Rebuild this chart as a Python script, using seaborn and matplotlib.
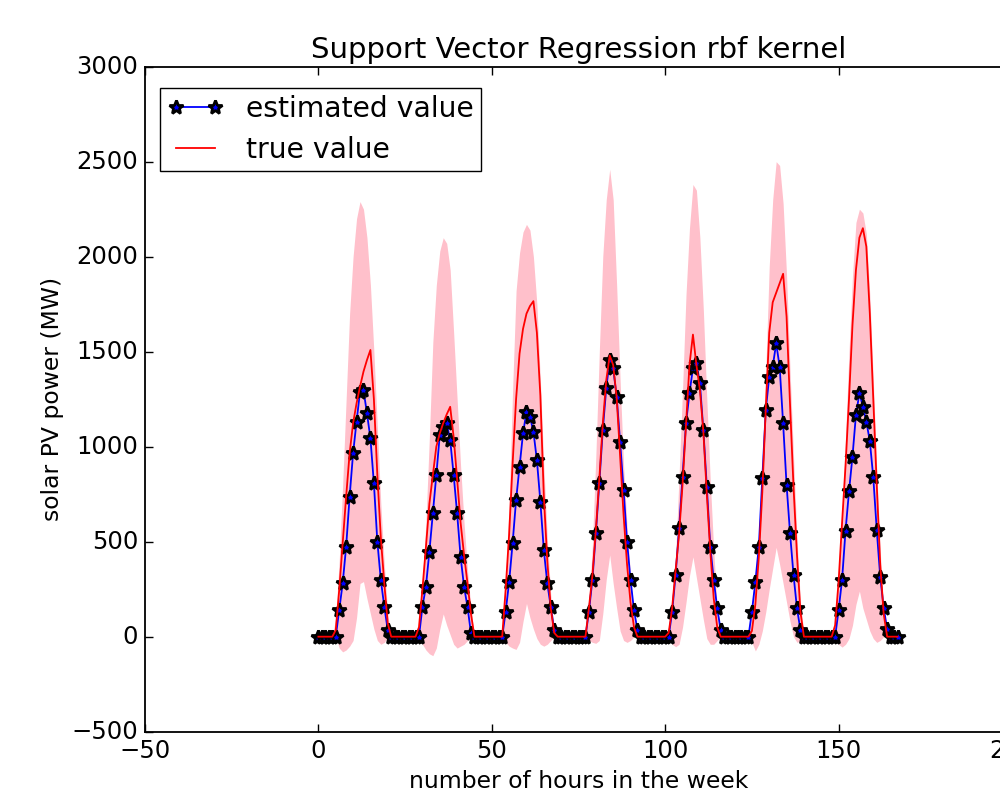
import numpy as np
import pandas as pd
import matplotlib
matplotlib.use("Agg")
import matplotlib.pyplot as plt
import seaborn as sns

# old matplotlib look (boxed axes, inward ticks on all sides)
plt.style.use("classic")
plt.rcParams["font.family"] = "DejaVu Sans"
plt.rcParams["font.size"] = 17.5
plt.rcParams["figure.facecolor"] = "white"
plt.rcParams["savefig.facecolor"] = "white"
plt.rcParams["axes.linewidth"] = 1.3
for ax_name in ("xtick", "ytick"):
    plt.rcParams[f"{ax_name}.major.size"] = 5.5
    plt.rcParams[f"{ax_name}.major.width"] = 1.0
    plt.rcParams[f"{ax_name}.major.pad"] = 5

# --- data ---
# one week, hourly; each list covers hours 5..21 of its day, night hours are 0
N_HOURS = 168
FIRST_HOUR = 5

est_d1 = [0, 140, 281, 474, 737, 965, 1132, 1289, 1298, 1176, 1044, 807, 500, 298, 158, 35, 0]
est_d2 = [0, 158, 263, 447, 649, 851, 1062, 1106, 1123, 1035, 851, 649, 421, 263, 156, 17, 0]
est_d3 = [0, 132, 289, 492, 719, 895, 1070, 1184, 1158, 1079, 930, 711, 456, 281, 158, 35, 0]
est_d4 = [0, 132, 298, 544, 807, 1088, 1307, 1456, 1413, 1263, 1026, 772, 500, 298, 140, 35, 0]
est_d5 = [0, 132, 325, 570, 842, 1123, 1281, 1413, 1439, 1334, 1088, 789, 474, 298, 149, 35, 0]
est_d6 = [132, 289, 474, 833, 1193, 1368, 1421, 1544, 1421, 1123, 798, 544, 325, 149, 35, 0, 0]
est_d7 = [0, 140, 300, 558, 765, 948, 1167, 1281, 1211, 1132, 1030, 838, 562, 316, 152, 40, 0]

true_d1 = [35, 246, 492, 737, 965, 1123, 1228, 1316, 1395, 1456, 1509, 1250, 850, 520, 280, 70, 0]
true_d2 = [50, 250, 470, 700, 850, 1000, 1070, 1124, 1170, 1210, 1050, 830, 600, 430, 280, 120, 0]
true_d3 = [0, 250, 540, 910, 1250, 1490, 1620, 1700, 1740, 1766, 1600, 1270, 740, 400, 150, 20, 0]
true_d4 = [0, 150, 320, 560, 830, 1120, 1350, 1480, 1430, 1260, 950, 640, 380, 180, 50, 0, 0]
true_d5 = [20, 150, 350, 540, 800, 1120, 1430, 1590, 1430, 1300, 1080, 750, 450, 200, 50, 0, 0]
true_d6 = [30, 170, 420, 760, 1200, 1600, 1760, 1810, 1860, 1910, 1684, 1220, 790, 430, 130, 0, 0]
true_d7 = [60, 290, 600, 900, 1250, 1640, 1930, 2100, 2150, 2053, 1702, 1250, 800, 380, 120, 0, 0]

upper_d1 = [100, 400, 800, 1250, 1700, 2000, 2200, 2290, 2250, 2100, 1850, 1500, 1100, 700, 380, 120, 0]
upper_d2 = [60, 300, 600, 1050, 1550, 1850, 2030, 2100, 2070, 1930, 1600, 1250, 900, 600, 350, 150, 0]
upper_d3 = [0, 300, 700, 1300, 1820, 2020, 2130, 2170, 2140, 2000, 1750, 1350, 900, 520, 220, 40, 0]
upper_d4 = [0, 170, 480, 950, 1500, 2000, 2300, 2460, 2300, 1850, 1350, 900, 580, 320, 100, 20, 0]
upper_d5 = [30, 170, 420, 850, 1300, 1800, 2150, 2380, 2350, 2100, 1720, 1250, 820, 450, 150, 40, 0]
upper_d6 = [140, 300, 520, 900, 1400, 1950, 2300, 2500, 2480, 2280, 1900, 1400, 950, 520, 180, 20, 0]
upper_d7 = [80, 320, 650, 1050, 1500, 1900, 2180, 2250, 2230, 2120, 1800, 1350, 880, 450, 150, 40, 0]

lower_d1 = [0, -60, -80, -70, -50, -20, 100, 280, 290, 200, 120, 40, -20, -40, -30, 0, 0]
lower_d2 = [0, -40, -70, -90, -100, -60, 40, 120, 60, 10, -40, -60, -50, -40, -20, 0, 0]
lower_d3 = [0, -30, -50, -60, -67, -30, 80, 175, 100, 40, -10, -40, -50, -40, -20, 0, 0]
lower_d4 = [0, -20, -30, -35, -20, 120, 300, 430, 280, 150, 30, -20, -30, -20, 0, 0, 0]
lower_d5 = [0, -40, -53, -40, 50, 180, 320, 420, 310, 200, 90, -10, -40, -40, -20, 0, 0]
lower_d6 = [-30, -75, -40, 30, 130, 250, 360, 470, 380, 280, 180, 80, 0, -30, -20, 0, 0]
lower_d7 = [0, -40, -55, -40, -10, 60, 170, 240, 150, 90, 30, -10, -30, -20, 0, 0, 0]


def week(days):
    """Put the daytime lists into a full week of hourly values."""
    out = np.zeros(N_HOURS)
    for d, vals in enumerate(days):
        start = 24 * d + FIRST_HOUR
        out[start:start + len(vals)] = vals
    return out


hours = np.arange(N_HOURS)
df = pd.DataFrame({
    "hour": hours,
    "estimated": week([est_d1, est_d2, est_d3, est_d4, est_d5, est_d6, est_d7]),
    "true": week([true_d1, true_d2, true_d3, true_d4, true_d5, true_d6, true_d7]),
    "upper": week([upper_d1, upper_d2, upper_d3, upper_d4, upper_d5, upper_d6, upper_d7]),
    "lower": week([lower_d1, lower_d2, lower_d3, lower_d4, lower_d5, lower_d6, lower_d7]),
})

# --- plot ---
fig = plt.figure(figsize=(10, 8), dpi=100)
# the original image is cropped: the right spine sits just past the edge
ax = fig.add_axes([0.145, 0.0854, 0.867, 0.83125])

ax.fill_between(df["hour"], df["lower"], df["upper"], color="pink", lw=0, zorder=1)
sns.lineplot(data=df, x="hour", y="estimated", color="b", lw=1.3, marker="*",
             ms=10, mfc="b", mec="k", mew=2.0, label="estimated value", ax=ax, zorder=2)
sns.lineplot(data=df, x="hour", y="true", color="r", lw=1.3,
             label="true value", ax=ax, zorder=3)

ax.set_xlim(-50, 200)
ax.set_ylim(-500, 3000)
ax.set_xticks(np.arange(-50, 201, 50))
ax.set_yticks(np.arange(-500, 3001, 500))
ax.set_title("Support Vector Regression rbf kernel", fontsize=21, pad=6)
ax.set_xlabel("number of hours in the week", fontsize=16.9)
ax.set_ylabel("solar PV power (MW)", fontsize=16.9)

ax.legend(loc="upper left", bbox_to_anchor=(0.0173, 0.968), borderaxespad=0,
          numpoints=2, fancybox=False, frameon=True, fontsize=20.3,
          borderpad=0.25, labelspacing=0.45, handlelength=2.0, handletextpad=0.8)

fig.savefig("out.png", dpi=100)
